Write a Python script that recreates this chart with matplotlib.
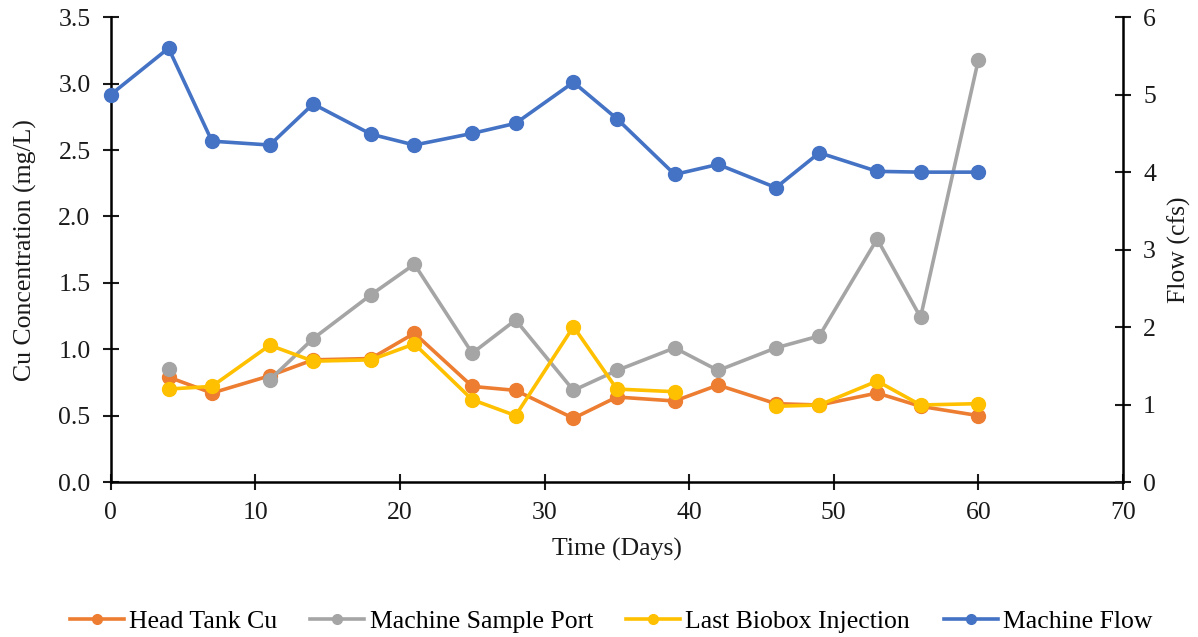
import numpy as np
import matplotlib
matplotlib.use("Agg")
import matplotlib.pyplot as plt
from matplotlib.lines import Line2D

plt.rcParams['font.family'] = ['Liberation Serif', 'DejaVu Serif']

days = [0, 4, 7, 11, 14, 18, 21, 25, 28, 32, 35, 39, 42, 46, 49, 53, 56, 60]
nan = np.nan

head_tank = [nan, 0.79, 0.67, 0.80, 0.92, 0.93, 1.12, 0.72, 0.69, 0.48,
             0.64, 0.61, 0.73, 0.59, 0.58, 0.67, 0.57, 0.50]
sample_port = [nan, 0.85, nan, 0.77, 1.08, 1.41, 1.64, 0.97, 1.22, 0.69,
               0.84, 1.01, 0.84, 1.01, 1.10, 1.83, 1.24, 3.18]
biobox = [nan, 0.70, 0.72, 1.03, 0.91, 0.92, 1.04, 0.62, 0.50, 1.17,
          0.70, 0.68, nan, 0.57, 0.58, 0.76, 0.58, 0.59]
flow = [5.00, 5.60, 4.40, 4.35, 4.88, 4.49, 4.35, 4.50, 4.63, 5.16,
        4.69, 3.97, 4.10, 3.80, 4.25, 4.01, 4.00, 4.00]

series_names = ['Head Tank Cu', 'Machine Sample Port', 'Last Biobox Injection', 'Machine Flow']
colors = ['#ED7D31', '#A5A5A5', '#FFC000', '#4472C4']

FS = 18.5
TXT = '#1a1a1a'

fig = plt.figure(figsize=(11.98, 6.37), dpi=100)
ax = fig.add_axes([0.0924, 0.2433, 0.845, 0.7297])
ax2 = ax.twinx()

style = dict(marker='o', markersize=10, linewidth=2.6, clip_on=False)
for vals, c in zip([head_tank, sample_port, biobox], colors[:3]):
    ax.plot(days, vals, color=c, **style)
ax2.plot(days, flow, color=colors[3], **style)

ax.set_xlim(0, 70)
ax.set_ylim(0, 3.5)
ax.set_xticks(np.arange(0, 71, 10))
ax.set_yticks(np.arange(0, 3.51, 0.5))
ax.yaxis.set_major_formatter(matplotlib.ticker.FormatStrFormatter('%.1f'))
ax2.set_ylim(0, 6)
ax2.set_yticks(range(0, 7))

for a in (ax, ax2):
    a.spines['top'].set_visible(False)
    for s in a.spines.values():
        s.set_linewidth(1.8)
    a.tick_params(direction='inout', length=11, width=1.5, labelsize=FS, colors=TXT)
ax2.spines['left'].set_visible(False)
ax2.spines['bottom'].set_visible(False)
ax.spines['right'].set_visible(False)
ax.tick_params(axis='x', pad=9)
ax.tick_params(axis='y', pad=9)
ax2.tick_params(axis='y', pad=9)

ax.set_xlabel('Time (Days)', fontsize=FS, color=TXT, labelpad=10)
ax.set_ylabel('Cu Concentration (mg/L)', fontsize=FS, color=TXT, labelpad=15)
ax2.set_ylabel('Flow (cfs)', fontsize=FS, color=TXT, labelpad=8)

# legend with smaller markers, as in the spreadsheet original
handles = [Line2D([], [], color=c, marker='o', markersize=7, linewidth=2.6) for c in colors]
fig.legend(handles=handles, labels=series_names, loc='lower center', ncol=4,
           bbox_to_anchor=(0.51, -0.03), frameon=False, fontsize=FS,
           handlelength=2.1, columnspacing=1.3, handletextpad=0.2)

fig.savefig('out.png', dpi=100)
